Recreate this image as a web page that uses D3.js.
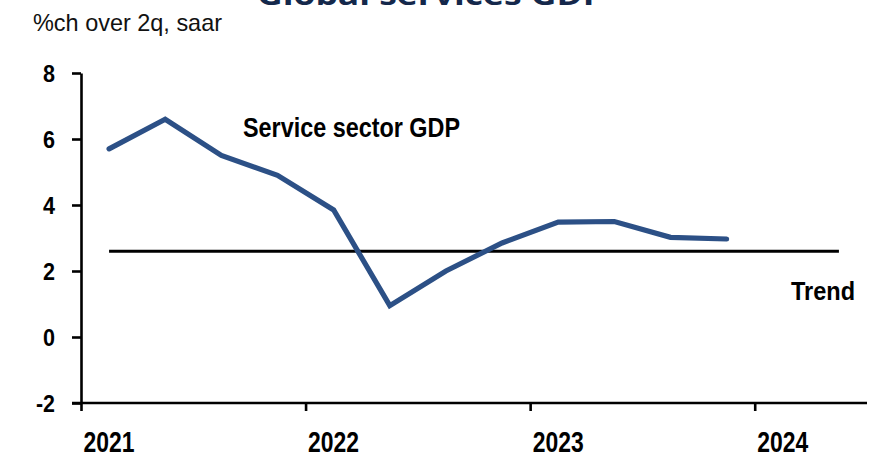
<!DOCTYPE html>
<html>
<head>
<meta charset="utf-8">
<script src="https://cdn.jsdelivr.net/npm/d3@7/dist/d3.min.js"></script>
<style>
  html, body { margin: 0; padding: 0; background: #ffffff; }
  svg { display: block; }
  .narrow { font-family: "Liberation Sans Narrow", "Arial Narrow", "Liberation Sans", Arial, sans-serif; }
</style>
</head>
<body>
<svg id="chart" width="874" height="458"></svg>
<script>
// Global services GDP, %ch over 2q, saar
const quarters = ["2021Q1","2021Q2","2021Q3","2021Q4","2022Q1","2022Q2","2022Q3","2022Q4","2023Q1","2023Q2","2023Q3","2023Q4"];
const serviceGDP = [5.7, 6.6, 5.5, 4.9, 3.85, 0.95, 2.0, 2.85, 3.48, 3.5, 3.02, 2.97];
const trendQuarters = ["2021Q1", "2024Q2"];
const trendValue = 2.6;
const yearTicks = [2021, 2022, 2023, 2024];
const yTicks = [-2, 0, 2, 4, 6, 8];

const title = "Global services GDP";
const subtitle = "%ch over 2q, saar";
const seriesLabel = "Service sector GDP";
const trendLabel = "Trend";

// quarter label -> decimal year at the middle of the quarter
const qPos = q => +q.slice(0, 4) + (+q.slice(5) - 0.5) / 4;

const svg = d3.select("#chart");

const x = d3.scaleLinear().domain([2021, 2024.5]).range([81, 867]);
const y = d3.scaleLinear().domain([-2, 8]).range([403, 73]);

// fit a text element to a given width
function fit(sel, w) {
  sel.attr("textLength", w).attr("lengthAdjust", "spacingAndGlyphs");
}

// title (runs off the top edge)
svg.append("text")
  .attr("x", 431).attr("y", 5)
  .attr("text-anchor", "middle")
  .attr("font-family", "'Open Sans', 'Liberation Sans', sans-serif")
  .attr("font-weight", "bold")
  .attr("font-size", 29)
  .attr("fill", "#14284b")
  .text(title)
  .call(fit, 348);

svg.append("text")
  .attr("class", "narrow")
  .attr("x", 33).attr("y", 31)
  .attr("font-size", 24)
  .attr("fill", "#111")
  .text(subtitle)
  .call(fit, 189);

// axes
const yAxis = d3.axisLeft(y).tickValues(yTicks).tickSize(9).tickSizeOuter(0).tickPadding(17)
  .tickFormat(d => String(d));
const gy = svg.append("g").attr("transform", `translate(${x(2021)},0)`).call(yAxis);
gy.select(".domain").attr("stroke", "#000").attr("stroke-width", 2.6);
gy.selectAll(".tick line").attr("stroke", "#000").attr("stroke-width", 2.6);
gy.selectAll(".tick text")
  .attr("class", "narrow")
  .attr("font-size", 24).attr("font-weight", "bold").attr("fill", "#000")
  .attr("dy", "0.36em")
  .each(function (d) { d3.select(this).call(fit, d < 0 ? 19 : 12); });

const xAxis = d3.axisBottom(x).tickValues(yearTicks).tickSize(8).tickSizeOuter(0).tickPadding(0)
  .tickFormat(d => String(d));
const gx = svg.append("g").attr("transform", `translate(0,${y(-2)})`).call(xAxis);
gx.select(".domain").attr("stroke", "#000").attr("stroke-width", 2.6);
gx.selectAll(".tick line").attr("stroke", "#000").attr("stroke-width", 2.6);
gx.selectAll(".tick text")
  .attr("class", "narrow")
  .attr("font-size", 29).attr("font-weight", "bold").attr("fill", "#000")
  .attr("text-anchor", "start")
  .attr("x", 2).attr("y", 49).attr("dy", 0)
  .each(function () { d3.select(this).call(fit, 51); });
// extend the baseline a little to the left of the value axis
gx.select(".domain").attr("d", `M${x(2021) - 9},0H${x(2024.5)}`);

// trend line
svg.append("line")
  .attr("x1", x(qPos(trendQuarters[0]))).attr("x2", x(qPos(trendQuarters[1])))
  .attr("y1", y(trendValue)).attr("y2", y(trendValue))
  .attr("stroke", "#000").attr("stroke-width", 3);

// service sector line
const line = d3.line().x((d, i) => x(qPos(quarters[i]))).y(d => y(d));
svg.append("path")
  .datum(serviceGDP)
  .attr("d", line)
  .attr("fill", "none")
  .attr("stroke", "#2c5086")
  .attr("stroke-width", 5.2)
  .attr("stroke-linejoin", "miter")
  .attr("stroke-linecap", "round");

// labels
svg.append("text")
  .attr("class", "narrow")
  .attr("x", 243).attr("y", 137)
  .attr("font-size", 28).attr("font-weight", "bold").attr("fill", "#000")
  .text(seriesLabel)
  .call(fit, 217);

svg.append("text")
  .attr("class", "narrow")
  .attr("x", 791).attr("y", 300)
  .attr("font-size", 25).attr("font-weight", "bold").attr("fill", "#000")
  .text(trendLabel)
  .call(fit, 64);
</script>
</body>
</html>
